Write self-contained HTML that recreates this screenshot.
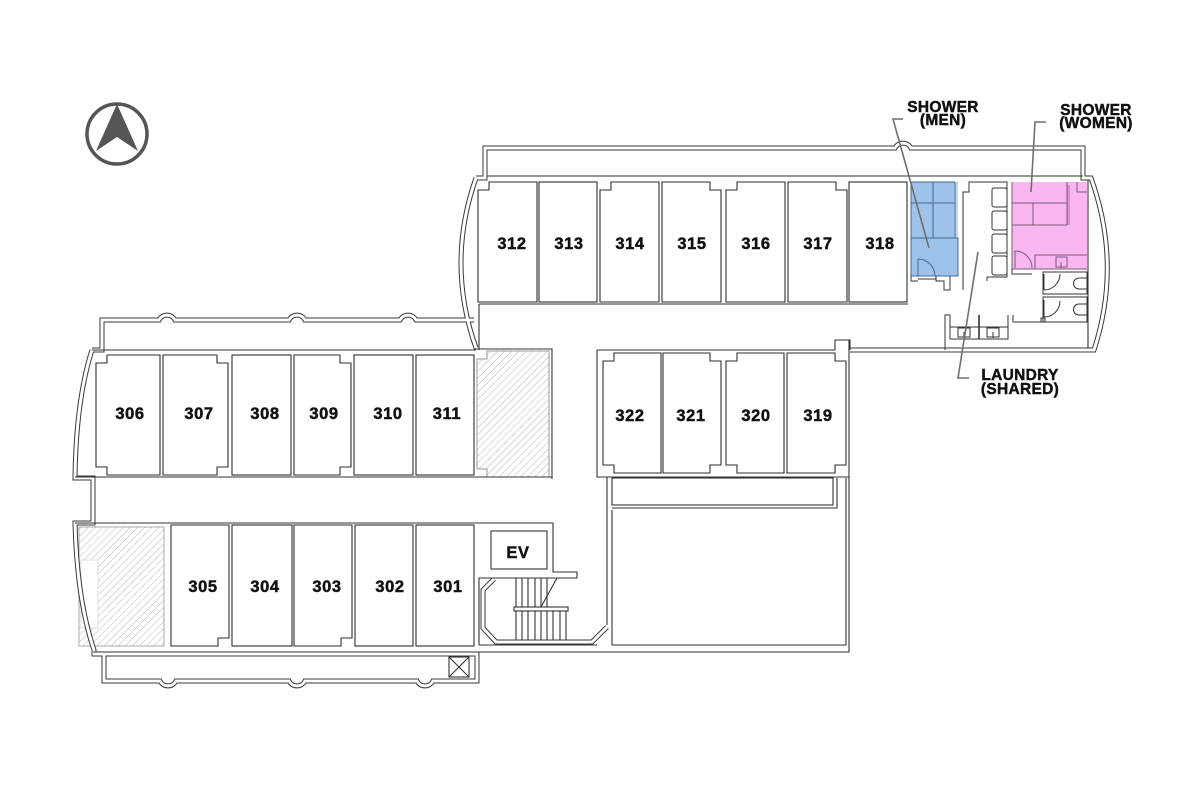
<!DOCTYPE html>
<html><head><meta charset="utf-8"><style>
html,body{margin:0;padding:0;background:#fff;}
svg{display:block;}
.t{font-family:"Liberation Sans",Arial,sans-serif;font-weight:bold;fill:#111;stroke:#111;stroke-width:0.45;}
</style></head><body>
<svg width="1200" height="800" viewBox="0 0 1200 800" xmlns="http://www.w3.org/2000/svg">
<defs>
<pattern id="h" width="5" height="5" patternUnits="userSpaceOnUse" patternTransform="rotate(45)">
<line x1="0" y1="0" x2="0" y2="5" stroke="#b4b4b4" stroke-width="1"/>
</pattern>
</defs>
<rect width="1200" height="800" fill="#fff"/>

<!-- compass -->
<circle cx="117" cy="134" r="30" fill="none" stroke="#555" stroke-width="3.5"/>
<polygon points="117,104 138,151 117,137 96,151" fill="#555"/>

<!-- hatched areas -->
<path d="M477,359 H487 V351 H549 V477 H487 V469 H477 Z" fill="url(#h)" stroke="#999" stroke-width="1"/>
<rect x="79" y="527" width="85" height="119" fill="url(#h)" stroke="#aaa" stroke-width="1"/>
<rect x="81" y="560" width="17" height="68" fill="#fff" stroke="#ddd" stroke-width="1"/>

<!-- double walls -->
<g fill="none" stroke="#3a3a3a" stroke-width="5" stroke-linejoin="miter">
<path d="M476,178 H485 V148 H895 A9 9 0 0 1 911,148 H1083 V178 H1091 Q1122,264 1094,350 H850"/>
<path d="M476,178 Q446,263 476,348"/>
<path d="M92,350 H102 V320 H159 A9 9 0 0 1 175,320 H289 A9 9 0 0 1 305,320 H400 A9 9 0 0 1 416,320 H474"/>
<path d="M92,350 Q76,400 75,478 H93 V523 H75 Q77,600 94,650 V654 H104"/>
<path d="M104,654 V681 H160 A9 9 0 0 0 176,681 H289 A9 9 0 0 0 305,681 H417 A9 9 0 0 0 433,681 H477 V654 Z"/>
<path d="M494,579 L483,590 V628 L496,642 H592 L607,627"/>
</g>
<g fill="none" stroke="#fff" stroke-width="3" stroke-linejoin="miter">
<path d="M476,178 H485 V148 H895 A9 9 0 0 1 911,148 H1083 V178 H1091 Q1122,264 1094,350 H850"/>
<path d="M476,178 Q446,263 476,348"/>
<path d="M92,350 H102 V320 H159 A9 9 0 0 1 175,320 H289 A9 9 0 0 1 305,320 H400 A9 9 0 0 1 416,320 H474"/>
<path d="M92,350 Q76,400 75,478 H93 V523 H75 Q77,600 94,650 V654 H104"/>
<path d="M104,654 V681 H160 A9 9 0 0 0 176,681 H289 A9 9 0 0 0 305,681 H417 A9 9 0 0 0 433,681 H477 V654 Z"/>
<path d="M494,579 L483,590 V628 L496,642 H592 L607,627"/>
</g>

<!-- single walls -->
<g fill="none" stroke="#333" stroke-width="1.1">
<path d="M487,176 H1083"/>
<path d="M479,304 V350"/>
<path d="M479,304 H908"/>
<path d="M92,350 H476"/>
<path d="M75,477 H552"/>
<path d="M474,349 H552 V479"/>
<path d="M75,523 H553 V572 H577 V578 H479 V645 H597"/>
<path d="M597,350 V477 H607 V625"/>
<path d="M597,350 H835 V340 H850 V350"/>
<path d="M849,340 V652 H93"/>
<path d="M607,477 H849"/>
<rect x="612" y="478" width="221" height="27"/>
<path d="M612,508 H837 V478"/>
<path d="M612,510 V645 H846 V478"/>
<path d="M1088,180 V348"/>
<rect x="449" y="657" width="20" height="20"/>
<path d="M449,657 L469,677 M469,657 L449,677"/>
<rect x="491" y="531" width="56" height="38"/>
<rect x="514" y="607" width="54" height="4"/>
<path d="M516,578 V607 M522,578 V607 M528,578 V607 M535,578 V607 M541,578 V607 M547,578 V607 M557,578 L541,607"/>
<path d="M516,611 V640 M522,611 V640 M528,611 V640 M535,611 V640 M541,611 V640 M547,611 V640 M553,611 V640 M560,611 V640 M566,611 V640"/>
</g>

<!-- rooms -->
<g fill="none" stroke="#2e2e2e" stroke-width="1.1">
<path d="M478,190 H489 V182 H537 V302 H478 Z"/>
<rect x="539" y="182" width="58" height="120"/>
<path d="M600,190 H611 V182 H659 V302 H600 Z"/>
<path d="M662,182 H710 V190 H721 V302 H662 Z"/>
<path d="M726,190 H737 V182 H785 V302 H726 Z"/>
<path d="M788,182 H836 V190 H847 V302 H788 Z"/>
<rect x="849" y="182" width="58" height="120"/>

<path d="M96,363 H107 V355 H160 V475 H107 V467 H96 Z"/>
<path d="M163,355 H217 V363 H228 V467 H217 V475 H163 Z"/>
<rect x="232" y="355" width="59" height="120"/>
<path d="M294,355 H340 V363 H351 V467 H340 V475 H294 Z"/>
<rect x="354" y="355" width="59" height="120"/>
<rect x="416" y="355" width="58" height="120"/>

<path d="M603,361 H614 V353 H661 V473 H614 V465 H603 Z"/>
<path d="M663,353 H710 V361 H721 V465 H710 V473 H663 Z"/>
<path d="M726,361 H737 V353 H784 V473 H737 V465 H726 Z"/>
<path d="M787,353 H835 V361 H846 V465 H835 V473 H787 Z"/>

<path d="M171,525 H229 V638 H218 V646 H171 Z"/>
<rect x="232" y="525" width="60" height="121"/>
<path d="M294,525 H352 V638 H341 V646 H294 Z"/>
<rect x="355" y="525" width="58" height="121"/>
<rect x="416" y="525" width="58" height="121"/>
</g>

<!-- shower men -->
<rect x="911" y="182" width="47" height="94" fill="#9ec3eb"/>
<rect x="954" y="182" width="4" height="56" fill="#bad6f4"/>
<g fill="none" stroke="#4a6790" stroke-width="1">
<path d="M911,182 V276 H958 V238 H911"/>
<path d="M911,182 H955 M911,203 H955 M933,182 V238 M955,182 V238"/>
<path d="M918,276 V259 A17 17 0 0 1 935,276"/>
</g>
<g fill="none" stroke="#333" stroke-width="1">
<path d="M911,276 V281 H918 M918,279 H936 M936,276 V281 H944 V290 H950 V276"/>
<path d="M963,290 V192 H969 V182 H1007 V277 H987 V281"/>
<rect x="992" y="188" width="15" height="19" rx="2"/>
<rect x="992" y="211" width="15" height="19" rx="2"/>
<rect x="992" y="234" width="15" height="19" rx="2"/>
<rect x="992" y="256" width="15" height="19" rx="2"/>
</g>

<!-- shower women -->
<rect x="1012" y="182" width="75" height="87" fill="#fab6f0"/>
<rect x="1067" y="185" width="3" height="40" fill="#d98fcd"/>
<g fill="none" stroke="#7a5a78" stroke-width="1">
<path d="M1012,182 V269 H1087"/>
<path d="M1012,203 H1067 M1012,225 H1067 M1033,203 V225 M1067,182 V225"/>
<path d="M1077,182 V192 H1087"/>
<path d="M1035,269 V255 H1087"/>
<rect x="1056" y="257" width="11" height="10"/>
<path d="M1061,262 V268"/>
<path d="M1015,268 V251 A17 17 0 0 1 1032,268"/>
</g>

<!-- toilets / laundry -->
<g fill="none" stroke="#333" stroke-width="1">
<path d="M1012,269 V274 H1032"/>
<rect x="1043" y="272" width="44" height="22"/>
<rect x="1043" y="297" width="44" height="25"/>
<path d="M1044,274 V290 M1044,290 A16 16 0 0 0 1060,274"/>
<path d="M1087,278 H1079 A5.5 5.5 0 0 0 1079,289 H1087"/>
<path d="M1044,300 V317 M1044,317 A16 16 0 0 0 1060,301"/>
<path d="M1087,304 H1079 A5.5 5.5 0 0 0 1079,315 H1087"/>
<rect x="1041" y="318" width="4" height="4"/>
<path d="M945,350 V315 H950 V339 H1008 V315"/>
<path d="M950,327 H1008"/>
<path d="M979,315 V339" stroke-width="1.6"/>
<path d="M1013,315 V322 H1042"/>
<rect x="958" y="328" width="12" height="9"/>
<rect x="987" y="328" width="12" height="9"/>
<path d="M964,332 V338 M993,332 V338"/>
</g>

<!-- leader lines -->
<g fill="none" stroke="#6f6f6f" stroke-width="1.6">
<path d="M903,119 H893 L929,248"/>
<path d="M1046,122 H1035 L1031,192"/>
<path d="M978,252 L958,378 H969"/>
</g>

<!-- labels -->
<g class="t" font-size="15.5" text-anchor="middle" letter-spacing="0.3">
<text x="943" y="112">SHOWER</text>
<text x="943" y="125">(MEN)</text>
<text x="1096" y="115">SHOWER</text>
<text x="1096" y="128">(WOMEN)</text>
<text x="1020" y="380">LAUNDRY</text>
<text x="1020" y="394">(SHARED)</text>
</g>

<g class="t" font-size="16.5" text-anchor="middle" letter-spacing="0.6">
<text x="512" y="249">312</text>
<text x="569" y="249">313</text>
<text x="630" y="249">314</text>
<text x="692" y="249">315</text>
<text x="756" y="249">316</text>
<text x="818" y="249">317</text>
<text x="880" y="249">318</text>

<text x="130" y="419">306</text>
<text x="199" y="419">307</text>
<text x="265" y="419">308</text>
<text x="324" y="419">309</text>
<text x="388" y="419">310</text>
<text x="447" y="419">311</text>

<text x="630" y="421">322</text>
<text x="691" y="421">321</text>
<text x="756" y="421">320</text>
<text x="818" y="421">319</text>

<text x="203" y="592">305</text>
<text x="265" y="592">304</text>
<text x="327" y="592">303</text>
<text x="390" y="592">302</text>
<text x="448" y="592">301</text>

<text x="518" y="558">EV</text>
</g>
</svg>
</body></html>
